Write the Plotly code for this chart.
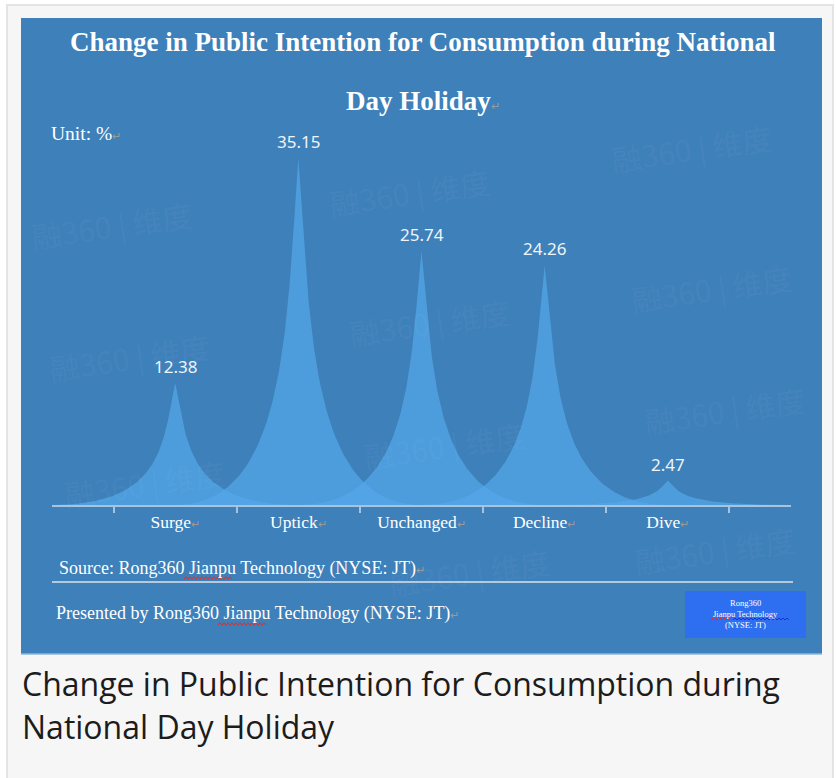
import numpy as np
import plotly.graph_objects as go

# ---------------- data ----------------
categories = ["Surge", "Uptick", "Unchanged", "Decline", "Dive"]
values = [12.38, 35.15, 25.74, 24.26, 2.47]
title_lines = ["Change in Public Intention for Consumption during National", "Day Holiday"]
unit_text = "Unit: %"
source_text = "Source: Rong360 Jianpu Technology (NYSE: JT)"
presented_text = "Presented by Rong360 Jianpu Technology (NYSE: JT)"
caption_lines = ["Change in Public Intention for Consumption during", "National Day Holiday"]
watermark = "融360 | 维度"

# ---------------- geometry helpers ----------------
W, H = 836, 778
ML, MR, MT, MB = 52, 45, 110, 273
PW, PH = W - ML - MR, H - MT - MB


def px(x):
    return (x - ML) / PW


def py(y):
    return (H - MB - y) / PH


PANEL = "#3e80b9"
FILL = "rgba(84,168,235,0.70)"
RET = "<span style='color:#9a9a9a;font-size:11px'>↵</span>"

fig = go.Figure()

# peak shapes (cubic bezier cusp, half-width = one category)
t = np.linspace(0, 1, 80)
xn = (1 - t) ** 3 + 3 * (1 - t) ** 2 * t * 0.1 + 3 * (1 - t) * t ** 2 * 0.1
hn = 3 * (1 - t) * t ** 2 * 0.5 + t ** 3
for i, (cat, v) in enumerate(zip(categories, values)):
    xs = np.concatenate([i - xn, (i + xn)[::-1]])
    ys = np.concatenate([v * hn, (v * hn)[::-1]])
    fig.add_trace(go.Scatter(x=xs, y=ys, mode="lines", fill="toself",
                             fillcolor=FILL, line=dict(width=0),
                             hoverinfo="skip", showlegend=False, name=cat))

annotations = []
for i, v in enumerate(values):
    annotations.append(dict(x=i, y=v, xref="x", yref="y", text=f"{v:.2f}",
                            showarrow=False, yanchor="bottom", yshift=3,
                            font=dict(family="Noto Sans", size=17, color="#eef4fa")))

serif = "Liberation Serif"
# titles
annotations.append(dict(x=px(423), y=py(42), xref="paper", yref="paper", showarrow=False,
                        text=f"<b>{title_lines[0]}</b>", xanchor="center", yanchor="middle",
                        font=dict(family=serif, size=27, color="white")))
annotations.append(dict(x=px(423), y=py(101), xref="paper", yref="paper", showarrow=False,
                        text=f"<b>{title_lines[1]}</b>{RET}", xanchor="center", yanchor="middle",
                        font=dict(family=serif, size=27, color="white")))
annotations.append(dict(x=px(49), y=py(133), xref="paper", yref="paper", showarrow=False,
                        text=unit_text + RET, xanchor="left", yanchor="middle",
                        font=dict(family=serif, size=19.5, color="white")))
annotations.append(dict(x=px(57), y=py(568), xref="paper", yref="paper", showarrow=False,
                        text=source_text + RET, xanchor="left", yanchor="middle",
                        font=dict(family=serif, size=18, color="white")))
annotations.append(dict(x=px(54), y=py(613), xref="paper", yref="paper", showarrow=False,
                        text=presented_text + RET, xanchor="left", yanchor="middle",
                        font=dict(family=serif, size=18, color="white")))
# logo box text
for txt, yy in [("Rong360", 603), ("Jianpu Technology", 614), ("(NYSE: JT)", 625)]:
    annotations.append(dict(x=px(745), y=py(yy), xref="paper", yref="paper", showarrow=False,
                            text=txt, xanchor="center", yanchor="middle",
                            font=dict(family=serif, size=8.5, color="white")))
# caption
for txt, yy in zip(caption_lines, [683, 726]):
    annotations.append(dict(x=px(20), y=py(yy), xref="paper", yref="paper", showarrow=False,
                            text=txt, xanchor="left", yanchor="middle",
                            font=dict(family="Open Sans", size=32, color="#1c1c1c")))
# watermarks
wm_pos = [(692, 148), (112, 225), (410, 192), (430, 322), (712, 288), (130, 357),
          (725, 410), (145, 483), (445, 445), (715, 550), (470, 572)]
for (wx, wy) in wm_pos:
    annotations.append(dict(x=px(wx), y=py(wy), xref="paper", yref="paper", showarrow=False,
                            text=watermark, xanchor="center", yanchor="middle", textangle=-8,
                            font=dict(family="Noto Sans CJK SC", size=30,
                                      color="rgba(255,255,255,0.05)")))


def wavy(x0, x1, y, color, amp=1.3, step=2.0):
    pts = []
    x = x0
    k = 0
    while x <= x1:
        yy = y + (amp if k % 2 == 0 else -amp)
        pts.append(f"{px(x):.5f},{py(yy):.5f}")
        x += step
        k += 1
    return dict(type="path", xref="paper", yref="paper", layer="above",
                path="M" + " L".join(pts), line=dict(color=color, width=1))


shapes = [
    # outer frame
    dict(type="rect", xref="paper", yref="paper", x0=px(7), x1=px(833), y0=py(5), y1=py(800),
         fillcolor="#f6f6f6", line=dict(color="#e4e4e4", width=2), layer="below"),
    # blue panel
    dict(type="rect", xref="paper", yref="paper", x0=px(21), x1=px(822), y0=py(18), y1=py(654),
         fillcolor=PANEL, line=dict(width=0), layer="below"),
    dict(type="line", xref="paper", yref="paper", x0=px(21), x1=px(822), y0=py(654), y1=py(654),
         line=dict(color="#8fb6d8", width=1.5), layer="below"),
    # separator line
    dict(type="line", xref="paper", yref="paper", x0=px(52), x1=px(793), y0=py(582), y1=py(582),
         line=dict(color="#b5c9da", width=2), layer="below"),
    # logo box
    dict(type="rect", xref="paper", yref="paper", x0=px(685), x1=px(806), y0=py(591), y1=py(638),
         fillcolor="#2e6ef0", line=dict(width=0), layer="below"),
    wavy(184, 233, 578, "#e0302a"),
    wavy(218, 266, 624, "#e0302a"),
    wavy(710, 733, 619, "#e0302a", amp=1.0),
    wavy(733, 790, 619, "#1c2fd8", amp=1.0),
]

fig.update_layout(
    width=W, height=H,
    margin=dict(l=ML, r=MR, t=MT, b=MB, pad=0),
    paper_bgcolor="white",
    plot_bgcolor="rgba(0,0,0,0)",
    showlegend=False,
    annotations=annotations,
    shapes=shapes,
    xaxis=dict(range=[-1, 5], showgrid=False, zeroline=False, showline=True,
               linecolor="#a9c3da", linewidth=2,
               tickvals=list(range(len(categories))),
               ticktext=[c + RET for c in categories],
               ticks="", tickfont=dict(family=serif, size=17.5, color="white"),
               minor=dict(tickvals=[i - 0.5 for i in range(len(categories) + 1)],
                          ticks="outside", ticklen=6, tickwidth=1.5, tickcolor="#a9c3da"),
               fixedrange=True),
    yaxis=dict(range=[0, 40], visible=False, showgrid=False, zeroline=False, fixedrange=True),
)

fig.write_html("out.html", config={"displayModeBar": False},
               post_script="document.body.style.margin='0px';")
